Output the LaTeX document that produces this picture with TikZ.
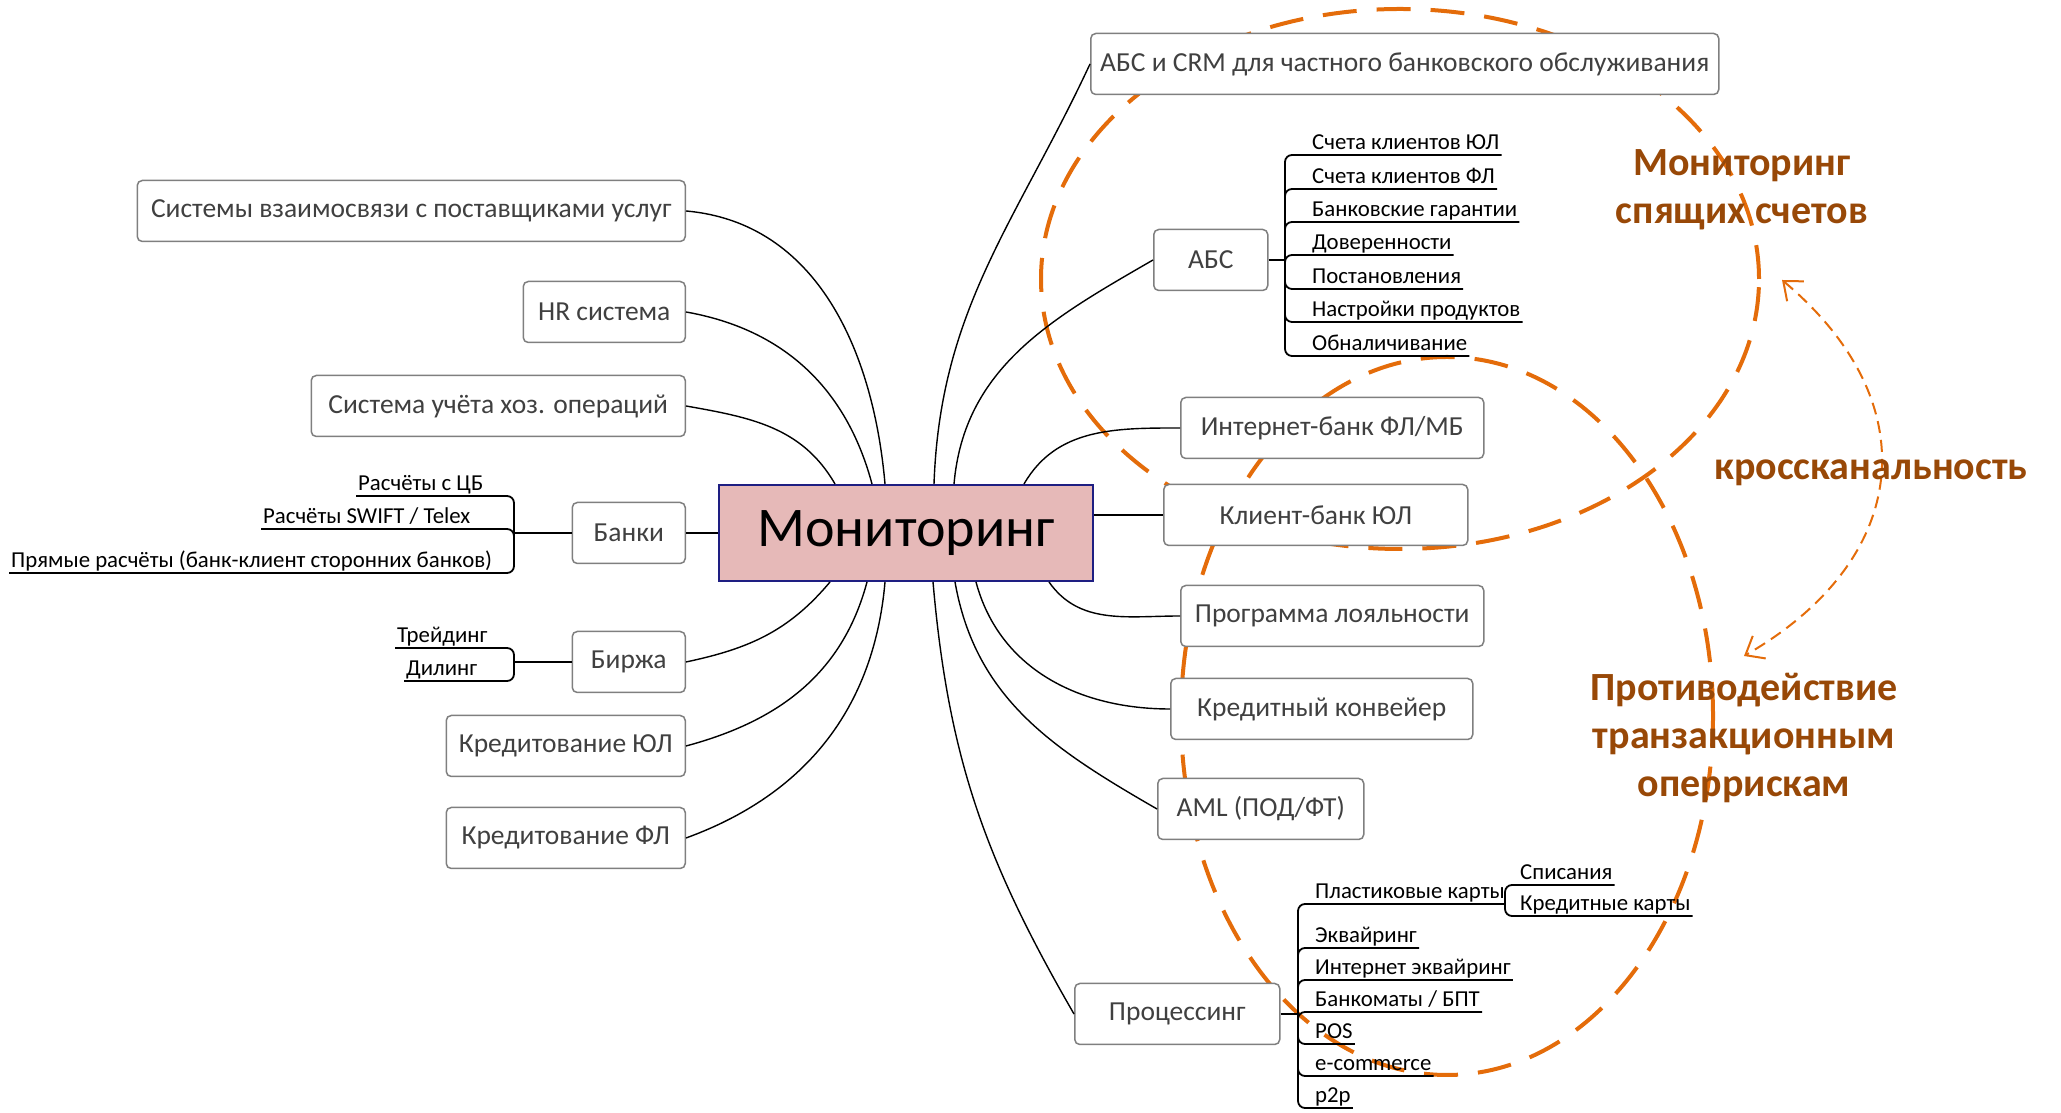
\documentclass[tikz,border=0pt]{standalone}
\usepackage{fontspec}
\setmainfont{Carlito}
\usetikzlibrary{arrows.meta}
\definecolor{boxline}{RGB}{127,127,127}
\definecolor{boxtext}{RGB}{64,64,64}
\definecolor{monfill}{RGB}{230,185,184}
\definecolor{monline}{RGB}{30,30,130}
\definecolor{ringorange}{RGB}{228,108,10}
\definecolor{headbrown}{RGB}{152,72,7}
\begin{document}
\begin{tikzpicture}[x=1pt,y=1pt,
    box/.style={draw=boxline, line width=1.5pt, rounded corners=5pt, fill=white, text=boxtext,
      minimum height=61pt, inner sep=0pt, font=\fontsize{27.5}{32}\selectfont},
    item/.style={anchor=south west, inner xsep=2pt, inner ysep=1pt, text height=16pt, text depth=4pt,
      font=\fontsize{22.8}{26}\selectfont},
    link/.style={line width=1.4pt},
    fork/.style={line width=1.8pt, rounded corners=7pt},
    ring/.style={draw=ringorange, line width=4pt, dash pattern=on 34pt off 20pt},
    xarrow/.style={draw=ringorange, line width=2pt, dash pattern=on 12pt off 7pt,
      {Straight Barb[length=16pt,width=26pt]}-{Straight Barb[length=16pt,width=26pt]}},
    headline/.style={text=headbrown, align=center, font=\bfseries\fontsize{40}{48}\selectfont}]
    \useasboundingbox (0,0) rectangle (2061,1113);
    \draw[ring] (1400,834) ellipse [x radius=359, y radius=270];
    \draw[ring] (1447,397) ellipse [x radius=266, y radius=359];
    \draw[xarrow] (1782,833) to[out=-40, in=30, looseness=1.3] (1744,457);
    \node[draw=monline, line width=2pt, fill=monfill, minimum width=374pt, minimum height=96pt,
      inner sep=0pt, font=\fontsize{56}{64}\selectfont] (mon) at (906,580) {Мониторинг};
    \node[box, anchor=east, minimum width=548pt] (sys) at (686,902) {Системы взаимосвязи с поставщиками услуг};
    \node[box, anchor=east, minimum width=162pt] (hr) at (686,801) {HR система};
    \node[box, anchor=east, minimum width=374pt] (acc) at (686,707) {Система учёта хоз. операций};
    \node[box, anchor=east, minimum width=113pt] (banks) at (686,580) {Банки};
    \node[box, anchor=east, minimum width=113pt] (exch) at (686,451) {Биржа};
    \node[box, anchor=east, minimum width=239pt] (crul) at (686,367) {Кредитование ЮЛ};
    \node[box, anchor=east, minimum width=239pt] (crfl) at (686,275) {Кредитование ФЛ};
    \node[box, anchor=west, minimum width=628pt] (crm) at (1090,1049) {АБС и CRM для частного банковского обслуживания};
    \node[box, anchor=west, minimum width=114pt] (abs) at (1153,853) {АБС};
    \node[box, anchor=west, minimum width=303pt] (ib) at (1180,685) {Интернет-банк ФЛ/МБ};
    \node[box, anchor=west, minimum width=304pt] (cb) at (1163,598) {Клиент-банк ЮЛ};
    \node[box, anchor=west, minimum width=303pt] (loy) at (1180,497) {Программа лояльности};
    \node[box, anchor=west, minimum width=302pt] (conv) at (1170,404) {Кредитный конвейер};
    \node[box, anchor=west, minimum width=206pt] (aml) at (1157,304) {AML (ПОД/ФТ)};
    \node[box, anchor=west, minimum width=205pt] (proc) at (1074,99) {Процессинг};
    \draw[link] ([xshift=117pt]mon.north west) to[out=120, in=-10] (acc.east);
    \draw[link] ([xshift=154pt]mon.north west) to[out=105, in=-10] (hr.east);
    \draw[link] ([xshift=167pt]mon.north west) to[out=95, in=-5] (sys.east);
    \draw[link] ([xshift=216pt]mon.north west) to[out=88, in=-115] (crm.west);
    \draw[link] ([xshift=236pt]mon.north west) to[out=85, in=210] (abs.west);
    \draw[link] ([xshift=306pt]mon.north west) to[out=60, in=180] (ib.west);
    \draw[link] ([yshift=18pt]mon.east) -- (cb.west);
    \draw[link] (mon.west) -- (banks.east);
    \draw[link] ([xshift=112pt]mon.south west) to[out=-130, in=12] (exch.east);
    \draw[link] ([xshift=149pt]mon.south west) to[out=-105, in=15] (crul.east);
    \draw[link] ([xshift=167pt]mon.south west) to[out=-95, in=20] (crfl.east);
    \draw[link] ([xshift=215pt]mon.south west) to[out=-85, in=120] (proc.west);
    \draw[link] ([xshift=237pt]mon.south west) to[out=-80, in=150] (aml.west);
    \draw[link] ([xshift=258pt]mon.south west) to[out=-75, in=180] (conv.west);
    \draw[link] ([xshift=331pt]mon.south west) to[out=-55, in=180] (loy.west);
    % banks
    \coordinate (bankfork) at (514,580);
    \draw[fork] (banks.west) -- (bankfork);
    \foreach \t/\x/\y [count=\i] in {Расчёты с ЦБ/356/617, {Расчёты SWIFT / Telex}/261/584,
        Прямые расчёты (банк-клиент сторонних банков)/9/540} {
      \node[item] (bnk\i) at (\x,\y) {\t};
      \draw[fork] (bankfork) |- (bnk\i.south west);
    }
    % exchange
    \coordinate (exchfork) at (514,451);
    \draw[fork] (exch.west) -- (exchfork);
    \foreach \t/\x/\y [count=\i] in {Трейдинг/395/465, Дилинг/404/432} {
      \node[item] (ex\i) at (\x,\y) {\t};
      \draw[fork] (exchfork) |- (ex\i.south west);
    }
    % abs
    \coordinate (absfork) at (1285,853);
    \draw[fork] (abs.east) -- (absfork);
    \foreach \t/\y [count=\i] in {Счета клиентов ЮЛ/958, Счета клиентов ФЛ/924, Банковские гарантии/891,
        Доверенности/858, Постановления/824, Настройки продуктов/791, Обналичивание/757} {
      \node[item] (ab\i) at (1310,\y) {\t};
      \draw[fork] (absfork) |- (ab\i.south east);
    }
    % processing
    \coordinate (procfork) at (1298,99);
    \coordinate (cardfork) at (1505,209);
    \draw[fork] (proc.east) -- (procfork);
    \node[item] (cards) at (1313,209) {Пластиковые карты};
    \draw[fork] (procfork) |- (cardfork);
    \node[item] (wo) at (1518,228) {Списания};
    \node[item] (cc) at (1518,197) {Кредитные карты};
    \draw[fork] (cardfork) |- (wo.south east);
    \draw[fork] (cardfork) |- (cc.south east);
    \foreach \t/\y [count=\i] in {Эквайринг/165, Интернет эквайринг/133, {Банкоматы / БПТ}/101,
        POS/69, e-commerce/37, p2p/5} {
      \node[item] (pr\i) at (1313,\y) {\t};
      \draw[fork] (procfork) |- (pr\i.south east);
    }
    \node[headline] (tsleep) at (1742,923) {Мониторинг\\спящих счетов};
    \node[headline] (tcross) at (1871,640) {кроссканальность};
    \node[headline] (tfraud) at (1744,375) {Противодействие\\транзакционным\\оперрискам};
\end{tikzpicture}
\end{document}
